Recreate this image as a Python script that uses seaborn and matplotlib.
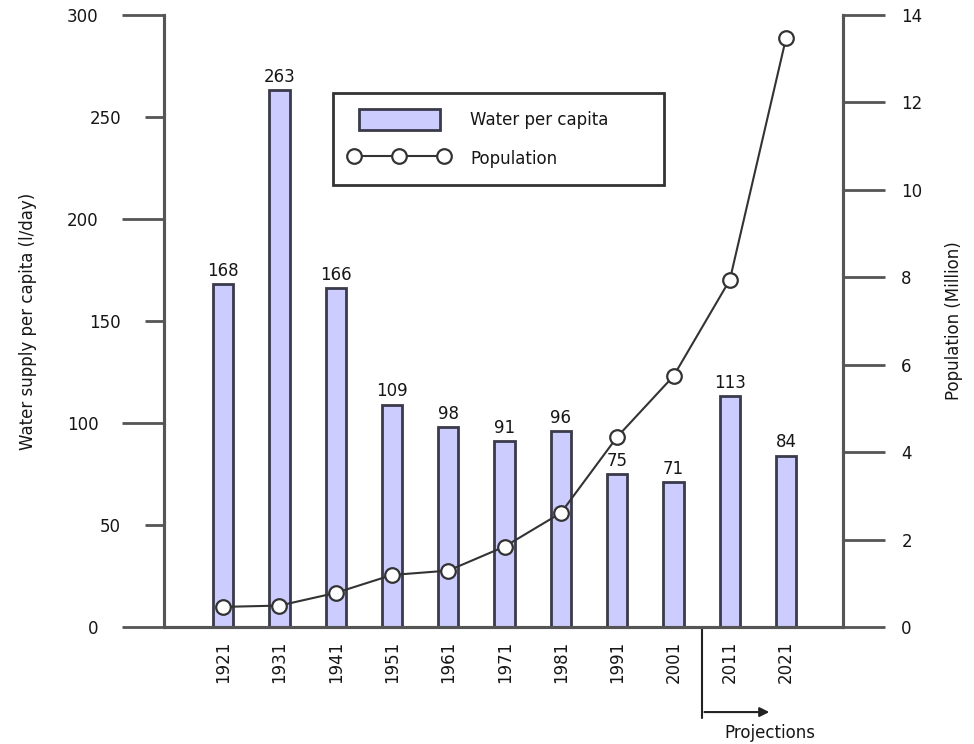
import matplotlib
matplotlib.use("Agg")
import matplotlib.pyplot as plt
import seaborn as sns
import numpy as np
import pandas as pd
from matplotlib.patches import Patch, Rectangle
from matplotlib.lines import Line2D
from matplotlib.legend_handler import HandlerPatch
from matplotlib.ticker import FixedLocator, FixedFormatter
import matplotlib.transforms as mtransforms

years = ["1921", "1931", "1941", "1951", "1961", "1971", "1981", "1991", "2001", "2011", "2021"]
water_per_capita = [168, 263, 166, 109, 98, 91, 96, 75, 71, 113, 84]
population = [0.46, 0.49, 0.78, 1.19, 1.29, 1.84, 2.61, 4.35, 5.74, 7.94, 13.48]
left_major = [0, 100, 200, 300]
left_minor = [50, 150, 250]
right_ticks = [0, 2, 4, 6, 8, 10, 12, 14]

sns.set_style("white")
plt.rcParams['font.family'] = ['DejaVu Sans']

BAR_FACE = "#ccccff"
EDGE = "#3a3a4a"
AXC = "#555555"
TXT = "#161616"
FS = 12

df = pd.DataFrame({"year": years, "water": water_per_capita, "pop": population})
df["pos"] = np.arange(len(df))

fig = plt.figure(figsize=(9.74, 7.44), dpi=100)
ax = fig.add_axes([164/974, 1-627/744, (843-164)/974, (627-15)/744])

sns.barplot(data=df, x="year", y="water", ax=ax, color=BAR_FACE, width=0.36,
            edgecolor=EDGE, linewidth=2, saturation=1)
ax.bar_label(ax.containers[0], padding=3, fontsize=FS, color=TXT)

ax.set_xlim(-1.05, 11.01)
ax.set_ylim(0, 300)
ax.yaxis.set_major_locator(FixedLocator(left_major))
ax.yaxis.set_major_formatter(FixedFormatter([str(v) for v in left_major]))
ax.yaxis.set_minor_locator(FixedLocator(left_minor))
ax.yaxis.set_minor_formatter(FixedFormatter([str(v) for v in left_minor]))
ax.tick_params(axis="y", which="major", length=30, width=2, color=AXC, pad=17,
               labelsize=FS, labelcolor=TXT, direction="out")
ax.tick_params(axis="y", which="minor", length=14, width=2, color=AXC, pad=17,
               labelsize=FS, labelcolor=TXT, direction="out")
ax.tick_params(axis="x", length=0, pad=10, labelsize=FS, labelcolor=TXT, labelrotation=90)
ax.set_xlabel("")
ax.set_ylabel("Water supply per capita (l/day)", fontsize=FS, color=TXT, labelpad=22)

for s in ["left", "bottom", "right"]:
    ax.spines[s].set_color(AXC)
    ax.spines[s].set_linewidth(2.2)
ax.spines["top"].set_visible(False)

ax2 = ax.twinx()
sns.lineplot(data=df, x="pos", y="pop", ax=ax2, color="#333333", linewidth=1.5,
             marker="o", markersize=10.5, markerfacecolor="white",
             markeredgecolor="#333333", markeredgewidth=1.6)
ax2.set_ylim(0, 14)
ax2.set_xlim(-1.05, 11.01)
ax2.yaxis.set_major_locator(FixedLocator(right_ticks))
ax2.tick_params(axis="y", length=30, width=2, color=AXC, pad=12,
                labelsize=FS, labelcolor=TXT, direction="out")
ax2.set_ylabel("Population (Million)", fontsize=FS, color=TXT, labelpad=16)
ax2.set_xlabel("")
for s in ["left", "bottom", "right"]:
    ax2.spines[s].set_color(AXC)
    ax2.spines[s].set_linewidth(2.2)
ax2.spines["top"].set_visible(False)
ax2.grid(False)
ax.grid(False)

# Projections marker
trans = mtransforms.blended_transform_factory(ax.transData, ax.transAxes)
ax.plot([8.5, 8.5], [0.0, -0.149], transform=trans, color="#222222", lw=1.5, clip_on=False)
ax.annotate("", xy=(9.75, -0.139), xytext=(8.5, -0.139), xycoords=trans, textcoords=trans,
            arrowprops=dict(arrowstyle="-|>", color="#222222", lw=1.5, mutation_scale=14),
            annotation_clip=False)
ax.text(9.71, -0.173, "Projections", transform=trans, ha="center", va="center",
        fontsize=FS, color=TXT, clip_on=False)


def narrow_rect(legend, orig_handle, xdescent, ydescent, width, height, fontsize):
    return Rectangle((-xdescent + 0.1 * width, -ydescent), 0.81 * width, height)


# Legend
bar_handle = Patch(facecolor=BAR_FACE, edgecolor=EDGE, linewidth=2)
handles = [
    bar_handle,
    Line2D([], [], color="#333333", lw=1.5, marker="o", markersize=10.5,
           markerfacecolor="white", markeredgecolor="#333333", markeredgewidth=1.6),
]
leg = fig.legend(handles, ["Water per capita", "Population"],
                 bbox_to_anchor=(333/974, 1-187/744, (664-333)/974, (187-93)/744),
                 loc="upper left", mode="expand", fontsize=FS, numpoints=3,
                 handlelength=6.0, handleheight=1.55, handletextpad=1.3,
                 labelspacing=1.1, borderpad=0.95, borderaxespad=0.0,
                 fancybox=False, framealpha=1, edgecolor="#333333",
                 handler_map={Patch: HandlerPatch(patch_func=narrow_rect)})
leg.get_frame().set_linewidth(2)
for t in leg.get_texts():
    t.set_color(TXT)

fig.savefig("out.png", dpi=100)
